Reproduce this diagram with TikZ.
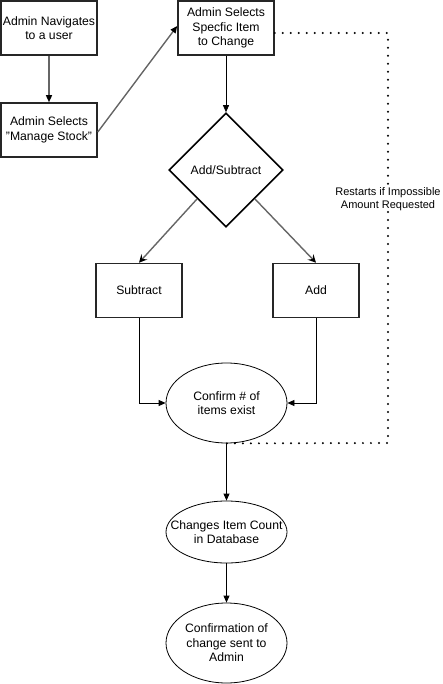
\documentclass[tikz,border=0pt]{standalone}
\usepackage{fontspec}
\setmainfont{Liberation Sans}
\usetikzlibrary{arrows.meta,shapes.geometric}
\begin{document}
\begin{tikzpicture}[x=1pt,y=-1pt,
  every node/.style={font=\fontsize{12.2}{14.5}\selectfont, align=center, inner sep=0pt},
  boxn/.style={draw=black!85, line width=1.6pt, rectangle, minimum width=#1, minimum height=54pt},
  boxn/.default=96pt,
  ell/.style={draw=black, line width=0.8pt, ellipse, minimum width=121pt, inner xsep=-20pt},
  dia/.style={draw=black, line width=1.6pt, diamond, minimum width=114pt, minimum height=114pt, aspect=1},
  garr/.style={draw=black!60, line width=1.4pt, -{Triangle[width=6pt,length=7pt,fill=black,color=black]}},
  barr/.style={draw=black, line width=0.8pt, -{Triangle[width=6pt,length=7pt]}},
  sarr/.style={draw=black!60, line width=1.4pt, -{Stealth[width=8pt,length=8pt,inset=3pt,color=black]}},
  dots/.style={draw=black, line width=2.2pt, dash pattern=on 0pt off 8pt, line cap=round}
]
\useasboundingbox (0,0) rectangle (443,684);
\node[boxn] (a) at (49,28) {Admin Navigates\\to a user};
\node[boxn] (b) at (49,130) {Admin Selects\\"Manage Stock"};
\node[boxn] (c) at (226,28) {Admin Selects\\Specfic Item\\to Change};
\node[dia] (d) at (226,170) {Add/Subtract};
\node[boxn=86pt] (s) at (139,290.5) {Subtract};
\node[boxn=86pt] (ad) at (316,290.5) {Add};
\node[ell, minimum height=80pt] (e1) at (226.5,403) {Confirm \# of\\items exist};
\node[ell, minimum height=62pt] (e2) at (226.5,532) {Changes Item Count\\in Database};
\node[ell, minimum height=80pt] (e3) at (226.5,643) {Confirmation of\\change sent to\\Admin};
\coordinate (r1) at (388,33);
\coordinate (r2) at (388,443);
\node[fill=white, font=\fontsize{11}{13.5}\selectfont, inner sep=1pt] (lab) at (388,199) {Restarts if Impossible\\Amount Requested};

\draw[garr] (a.south) -- (b.north);
\draw[garr] (b.east) ++(0,2) -- ([yshift=2pt]c.west);
\draw[barr] (c.south) -- (d.north);
\draw[sarr] (d.south west) -- (s.north);
\draw[sarr] (d.south east) -- (ad.north);
\draw[barr] (s.south) |- (e1.west);
\draw[barr] (ad.south) |- (e1.east);
\draw[barr] (e1.south) -- (e2.north);
\draw[barr] (e2.south) -- (e3.north);
\draw[dots] (c.east |- r1) -- (r1) -- (lab.north);
\draw[dots] (lab.south) -- (r2) -- (e1.south);
\end{tikzpicture}
\end{document}
